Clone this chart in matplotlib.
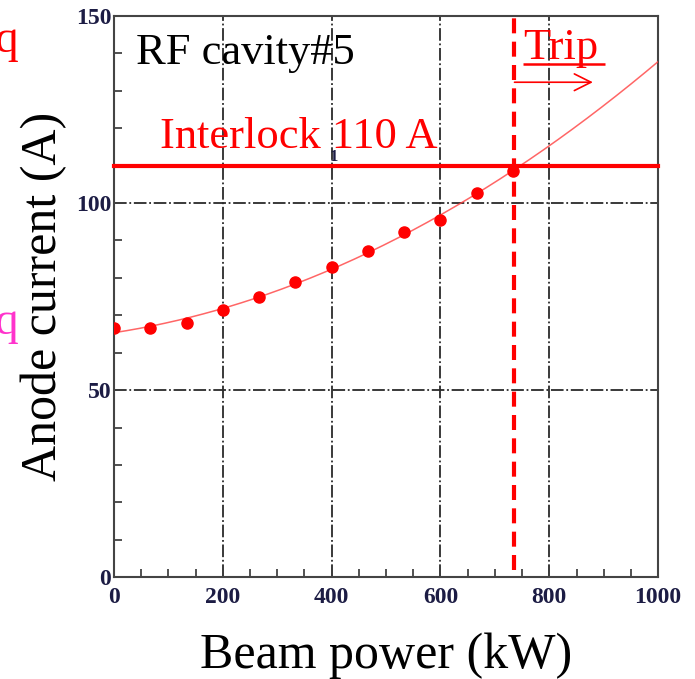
import numpy as np
import matplotlib
matplotlib.use("Agg")
import matplotlib.pyplot as plt
from matplotlib.ticker import MultipleLocator

# measured anode current vs beam power, RF cavity #5
beam_power = [0, 66.7, 133.3, 200, 266.7, 333.3, 400, 466.7, 533.3, 600, 666.7, 733.3]
anode_current = [66.5, 66.6, 68.0, 71.3, 74.8, 78.9, 83.0, 87.2, 92.2, 95.4, 102.8, 108.7]
interlock = 110
trip_power = 735

serif = "Liberation Serif"
red = "#ff0000"
navy = "#1c1c44"

fig = plt.figure(figsize=(6.95, 6.79), dpi=100)
ax = fig.add_axes([0.1640, 0.150, 0.7830, 0.8264])

# quadratic fit through the measured points
coef = np.polyfit(beam_power, anode_current, 2)
xf = np.linspace(0, 1000, 300)
ax.plot(xf, np.polyval(coef, xf), color="#ff4040", lw=1.1, alpha=0.8, zorder=3)
ax.plot(beam_power, anode_current, "o", color=red, ms=8, mec=red, zorder=4)

# interlock level and trip point
ax.axhline(interlock, color=red, lw=3.0, zorder=5, clip_on=False)
vl, = ax.plot([trip_power, trip_power], [2, 150], color=red, lw=3.0, zorder=5)
vl.set_dashes((3.6, 2.0))

ax.set_xlim(0, 1000)
ax.set_ylim(0, 150)
ax.xaxis.set_major_locator(MultipleLocator(200))
ax.xaxis.set_minor_locator(MultipleLocator(50))
ax.yaxis.set_major_locator(MultipleLocator(50))
ax.yaxis.set_minor_locator(MultipleLocator(10))
ax.tick_params(which="both", direction="in", colors="#333333", width=1.2)
ax.tick_params(which="major", length=0)
ax.tick_params(which="minor", length=6)
ax.tick_params(axis="x", which="major", pad=7)
ax.tick_params(axis="y", which="major", pad=2)
for lab in ax.get_xticklabels() + ax.get_yticklabels():
    lab.set_family(serif)
    lab.set_weight("bold")
    lab.set_fontsize(17)
    lab.set_color(navy)

ax.grid(True, which="major", color="#2a2a2a", lw=1.3, dashes=(7, 1.5, 1, 1.5))
for s in ax.spines.values():
    s.set_color("#444444")
    s.set_linewidth(1.5)

ax.set_xlabel("Beam power (kW)", family=serif, fontsize=36, labelpad=18)
ax.set_ylabel("Anode current (A)", family=serif, fontsize=36, labelpad=6)

ax.text(41, 137.3, "RF cavity#5", family=serif, fontsize=32, color="black")
ax.text(396, 111.2, "1", family=serif, fontsize=12, color=navy, weight="bold")
ax.text(84, 114.6, "Interlock 110 A", family=serif, fontsize=32, color=red, zorder=6)

# trip label, underlined, with arrow pointing to higher power
ax.text(752, 138.6, "Trip", family=serif, fontsize=32, color=red)
ax.plot([751, 902], [137.2, 137.2], color=red, lw=1.8, solid_capstyle="butt")
ax.annotate("", xy=(880, 132.3), xytext=(736, 132.3),
            arrowprops=dict(arrowstyle="->,head_length=1.2,head_width=0.6",
                            color=red, lw=1.2, shrinkA=0, shrinkB=0))

# letters from the neighbouring panel, cut by the frame edge
fig.text(18 / 695, 1 - 52 / 679, "q", family=serif, fontsize=34, color=red, ha="right")
fig.text(18 / 695, 1 - 334 / 679, "q", family=serif, fontsize=34, color="#ff33cc", ha="right")

fig.savefig("out.png", dpi=100)
